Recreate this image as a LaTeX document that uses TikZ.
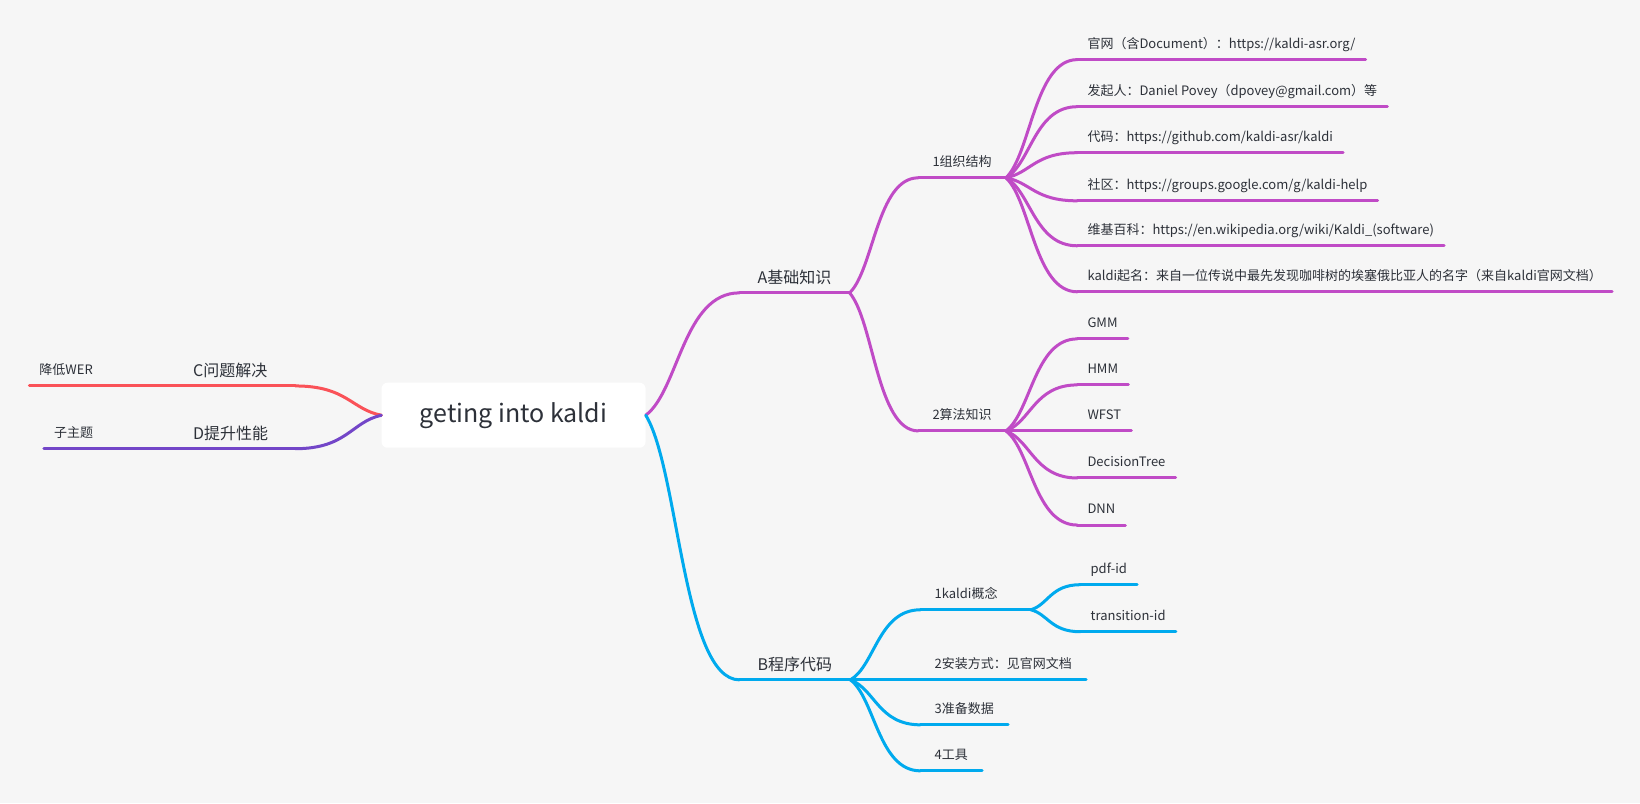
\documentclass[tikz,border=0pt]{standalone}
\usepackage{fontspec}
\newfontfamily\cjk{Noto Sans CJK SC}
\usepackage{tikz}
\usetikzlibrary{calc,positioning}
\definecolor{brA}{RGB}{192, 75, 198}
\definecolor{brB}{RGB}{0, 170, 238}
\definecolor{brC}{RGB}{250, 82, 88}
\definecolor{brD}{RGB}{115, 70, 200}
\definecolor{ink}{RGB}{45, 49, 57}
\definecolor{paper}{RGB}{246, 246, 246}
\tikzset{ul/.style={append after command={(\tikzlastnode.south west) edge[draw=#1, line width=3pt, line cap=round] (\tikzlastnode.south east)}}}
\tikzset{link/.style={line width=3pt, line cap=round, to path={let \p1=(\tikztostart), \p2=(\tikztotarget) in .. controls ({\x1+0.35*(\x2-\x1)},{\y1+0.2*(\y2-\y1)}) and ({\x2-0.6*(\x2-\x1)},\y2) .. (\tikztotarget)}}}
\tikzstyle{root} = [rectangle, fill=white, rounded corners=6pt, minimum width=264pt, minimum height=65pt, text=ink, font=\cjk\fontsize{25}{30}\selectfont]
\tikzstyle{main} = [anchor=south west, text=ink, inner xsep=18pt, inner ysep=5.5pt, text height=12pt, text depth=3.5pt, font=\cjk\fontsize{16}{19}\selectfont]
\tikzstyle{sub} = [anchor=south west, text=ink, inner xsep=14pt, inner ysep=8pt, text height=10pt, text depth=3pt, font=\cjk\fontsize{13}{16}\selectfont]
\tikzstyle{leaf} = [sub, inner xsep=10pt]

\begin{document}
\begin{tikzpicture}[x=1.0459pt, y=-1.0459pt]

\fill[paper] (0,0) rectangle (1568,768);

% centre ==================================
\node[root] (kaldi) at (491,397) {geting into kaldi};

% main topics
\node[main, ul=brA] (basic) at (707,280) {A基础知识};
\node[main, ul=brB] (code) at (707,650) {B程序代码};
\node[main, ul=brC, inner xsep=13pt, text width=89pt, align=left] (solve) at (172,369) {C问题解决};
\node[main, ul=brD, inner xsep=13pt, text width=89pt, align=left] (perf) at (172,429) {D提升性能};

% A
\node[sub, ul=brA] (org) at (878,170) {1组织结构};
\node[sub, ul=brA] (algo) at (878,412) {2算法知识};

\node[leaf, ul=brA] (site) at (1030,57) {官网（含Document）：https://kaldi-asr.org/};
\node[leaf, ul=brA] (author) at (1030,102) {发起人：Daniel Povey（dpovey@gmail.com）等};
\node[leaf, ul=brA] (repo) at (1030,146) {代码：https://github.com/kaldi-asr/kaldi};
\node[leaf, ul=brA] (forum) at (1030,192) {社区：https://groups.google.com/g/kaldi-help};
\node[leaf, ul=brA] (wiki) at (1030,235) {维基百科：https://en.wikipedia.org/wiki/Kaldi\_(software)};
\node[leaf, ul=brA] (name) at (1030,279) {kaldi起名：来自一位传说中最先发现咖啡树的埃塞俄比亚人的名字（来自kaldi官网文档）};

\node[leaf, ul=brA] (gmm) at (1030,324) {GMM};
\node[leaf, ul=brA] (hmm) at (1030,368) {HMM};
\node[leaf, ul=brA] (wfst) at (1030,412) {WFST};
\node[leaf, ul=brA] (tree) at (1030,457) {DecisionTree};
\node[leaf, ul=brA] (dnn) at (1030,502) {DNN};

% B
\node[sub, ul=brB, text width=82pt, align=left] (concept) at (880,583) {1kaldi概念};
\node[sub, ul=brB] (install) at (880,650) {2安装方式：见官网文档};
\node[sub, ul=brB] (data) at (880,693) {3准备数据};
\node[sub, ul=brB] (tools) at (880,737) {4工具};

\node[leaf, ul=brB] (pdf) at (1033,559) {pdf-id};
\node[leaf, ul=brB] (trans) at (1033,604) {transition-id};

% C and D
\node[leaf, ul=brC] (wer) at (28,369) {降低WER};
\node[leaf, ul=brD] (subtopic) at (42,429) {子主题};

%edges
\draw[link, brA] (kaldi.east) to (basic.south west);
\draw[link, brB] (kaldi.east) to (code.south west);
\draw[link, brC] (kaldi.west) to (solve.south east);
\draw[link, brD] (kaldi.west) to (perf.south east);

\draw[link, brA] (basic.south east) to (org.south west);
\draw[link, brA] (basic.south east) to (algo.south west);

\draw[link, brA] (org.south east) to (site.south west);
\draw[link, brA] (org.south east) to (author.south west);
\draw[link, brA] (org.south east) to (repo.south west);
\draw[link, brA] (org.south east) to (forum.south west);
\draw[link, brA] (org.south east) to (wiki.south west);
\draw[link, brA] (org.south east) to (name.south west);

\draw[link, brA] (algo.south east) to (gmm.south west);
\draw[link, brA] (algo.south east) to (hmm.south west);
\draw[link, brA] (algo.south east) to (wfst.south west);
\draw[link, brA] (algo.south east) to (tree.south west);
\draw[link, brA] (algo.south east) to (dnn.south west);

\draw[link, brB] (code.south east) to (concept.south west);
\draw[link, brB] (code.south east) to (install.south west);
\draw[link, brB] (code.south east) to (data.south west);
\draw[link, brB] (code.south east) to (tools.south west);

\draw[link, brB] (concept.south east) to (pdf.south west);
\draw[link, brB] (concept.south east) to (trans.south west);

\draw[link, brC] (solve.south west) to (wer.south east);
\draw[link, brD] (perf.south west) to (subtopic.south east);

\end{tikzpicture}
\end{document}
